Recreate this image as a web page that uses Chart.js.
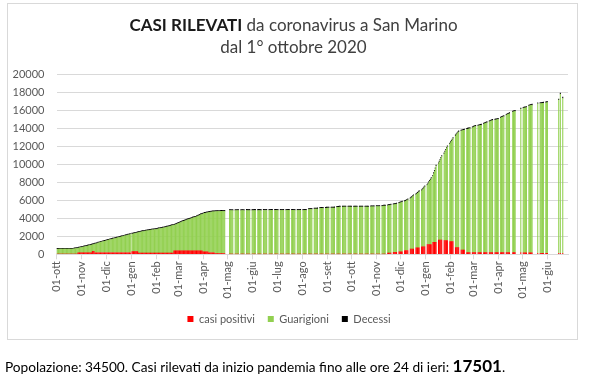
<!DOCTYPE html>
<html><head><meta charset="utf-8">
<script src="https://cdn.jsdelivr.net/npm/chart.js@4.4.1/dist/chart.umd.min.js"></script>
<style>
html,body{margin:0;padding:0;background:#fff;width:589px;height:377px;overflow:hidden;font-family:Lato,"Open Sans",sans-serif;}
#frame{position:absolute;left:7px;top:3px;width:571px;height:337px;border:1px solid #d9d9d9;box-sizing:border-box;}
#title{position:absolute;left:0;width:587px;top:14px;text-align:center;color:#404040;font-size:17px;line-height:22px;}
#title b{color:#1a1a1a;}
#note{position:absolute;left:5px;top:355px;font-size:13.7px;color:#000;white-space:nowrap;}
#note b{font-size:17px;}
#c{position:absolute;left:0;top:0;}
</style></head>
<body>
<div id="frame"></div>
<canvas id="c" width="589" height="377"></canvas>
<div id="title"><b>CASI RILEVATI</b> da coronavirus a San Marino<br>dal 1° ottobre 2020</div>
<div id="note">Popolazione: 34500. Casi rilevati da inizio pandemia fino alle ore 24 di ieri: <b>17501</b>.</div>
<script>
// giorni dal 01-ott-2020 al 26-giu-2022 (null = dato non pubblicato)
const dataInizio = [2020, 9, 1];
const mesi = ['gen','feb','mar','apr','mag','giu','lug','ago','set','ott','nov','dic'];
const serieNomi = ['casi positivi', 'Guarigioni', 'Decessi'];

const positivi = [
40,40,40,40,40,40,40,40,40,40,40,40,40,40,40,40,40,40,40,40,40,40,40,40,40,40,
190,190,190,190,190,190,190,190,190,190,190,190,190,190,190,190,190,190,
360,360,360,
200,200,200,200,200,200,200,200,200,200,200,200,200,200,200,200,200,200,200,200,200,200,200,200,200,200,200,200,200,200,200,200,200,200,200,200,200,200,200,200,200,200,200,200,200,
null,
320,320,320,320,320,320,320,320,
170,170,170,170,170,170,170,170,170,170,170,170,170,170,170,170,170,170,170,170,170,170,170,170,170,170,170,170,170,170,170,170,170,170,170,170,170,170,170,170,170,170,170,170,
420,420,420,420,420,420,420,420,420,420,420,420,420,420,420,420,420,420,420,420,420,420,420,420,420,420,420,420,420,420,420,420,420,420,420,420,
310,310,310,310,310,310,310,
200,200,200,200,200,200,200,200,
90,90,90,90,90,90,90,90,90,90,90,90,90,
null,null,null,null,null,
20,20,20,20,20,null,null,
20,20,20,20,20,null,null,
20,20,20,20,20,null,null,
20,20,20,20,20,null,null,
20,20,20,20,20,null,null,
20,20,20,20,20,null,null,
20,20,20,20,20,null,null,
20,20,20,20,20,null,null,
20,20,20,20,20,null,null,
20,20,20,20,20,null,null,
20,20,20,20,20,null,null,
20,20,20,20,20,null,null,
20,20,20,20,20,null,null,
20,20,20,20,20,null,null,
20,20,20,20,20,null,null,
20,20,20,20,20,null,null,
20,20,20,20,20,null,null,
20,20,20,20,20,null,null,
20,20,20,20,20,null,null,
20,20,20,20,20,null,null,
20,20,20,20,20,null,null,
20,20,20,20,20,null,null,
20,20,20,20,20,null,null,
20,20,20,20,20,null,null,
20,20,20,20,20,null,null,
20,20,20,20,20,null,null,
20,20,20,20,20,null,null,
20,20,20,20,20,null,null,
150,150,150,150,150,null,null,
230,230,230,230,230,null,null,
300,300,300,300,300,null,null,
450,450,450,450,450,null,null,
600,600,600,600,600,null,null,
750,750,750,750,750,null,null,
850,850,850,850,850,null,null,
1100,1100,1100,1100,1100,1100,null,
1350,1350,1350,1350,1350,null,null,
1600,1600,1600,1600,1600,null,null,
1550,1550,1550,1550,1550,null,null,
1450,1450,1450,1450,1450,null,null,
780,780,780,780,780,null,null,
500,500,500,500,500,null,null,
220,220,220,220,220,null,null,
220,220,220,220,220,null,null,
220,220,220,220,220,null,null,
220,220,220,220,220,null,null,
220,220,220,220,220,null,null,
220,220,220,220,220,null,null,
220,220,220,220,220,null,null,
220,220,220,220,220,null,null,
null,220,220,220,220,null,null,
null,null,null,null,220,null,null,
180,180,180,180,180,null,null,
180,180,180,180,180,null,null,
null,null,null,null,120,null,null,
120,120,120,120,120,null,null,
120,120,120,null,null,null,null,
null,null,null,null,null,null,null,
null,null,130,null,130,null,null,
130,null,null,null,null,null,null
];

const guarigioni = [
550,550,551,551,552,552,553,553,554,554,555,555,556,556,557,557,558,558,559,559,560,
580,595,610,625,640,
510,530,550,570,590,610,
630,650,670,690,710,730,
760,780,800,820,840,860,
720,750,770,
960,980,1000,1030,
1070,1090,1120,1150,1170,1200,
1230,1250,1270,1290,1320,1340,
1380,1400,1420,1450,1470,1490,
1520,1540,1560,1580,1600,1630,1650,
1680,1700,1720,1740,1770,1790,
1820,1840,1870,1890,1910,1940,1960,1980,2000,2030,
null,
1945,1965,1985,2005,2035,2055,2075,2095,
2275,2295,2315,2335,2355,2375,2385,2405,
2425,2435,2455,2465,2485,2495,2515,2535,
2555,2565,2575,2585,2595,2605,2625,2635,2655,
2685,2705,2715,2735,2755,2765,2785,2805,
2835,2855,2875,2895,2915,2935,2965,2985,
3025,3045,3065,
2845,2865,2895,2935,2975,3015,
3050,3090,3130,3170,
3210,3240,3270,3300,3330,3370,3400,3430,
3470,3500,3530,3560,3590,
3630,3660,3680,3710,3730,
3770,3810,3850,3890,3940,3990,
4030,4060,
4200,4230,4260,4280,
4300,4320,4330,
4460,4480,4490,4510,
4530,4540,4550,4560,
4680,4680,4690,4690,4700,4700,
4700,4710,4710,4710,4720,4720,4720,
null,null,null,null,null,
4865,4867,4869,4871,4873,null,null,
4873,4874,4875,4875,4875,null,null,
4875,4875,4875,4875,4875,null,null,
4877,4877,4877,4877,4877,null,null,
4878,4878,4878,4878,4878,null,null,
4879,4879,4879,4879,4879,null,null,
4880,4880,4880,4880,4880,null,null,
4881,4881,4881,4881,4881,null,null,
4883,4883,4883,4883,4883,null,null,
4885,4885,4885,4885,4885,null,null,
4887,4887,4887,4887,4887,null,null,
4890,4890,4890,4890,4890,null,null,
4892,4892,4892,4892,4892,null,null,
4895,4895,4895,4895,4895,null,null,
4965,4985,4995,5005,5015,null,null,
5025,5030,5035,5040,5045,null,null,
5105,5110,5115,5117,5120,null,null,
5125,5127,5130,5133,5135,null,null,
5140,5143,5147,5151,5155,null,null,
5225,5230,5235,5240,5245,null,null,
5250,5251,5252,5253,5255,null,null,
5255,5255,5255,5255,5255,null,null,
5257,5257,5257,5257,5257,null,null,
5259,5259,5259,5259,5259,null,null,
5261,5261,5261,5261,5261,null,null,
5275,5280,5285,5290,5295,null,null,
5300,5303,5305,5307,5310,null,null,
5335,5345,5355,5365,5375,null,null,
5275,5290,5305,5320,5335,null,null,
5295,5315,5335,5355,5375,null,null,
5382,5412,5452,5482,5522,null,null,
5422,5472,5522,5572,5632,null,null,
5582,5662,5742,5832,5932,null,null,
5882,5962,6052,6142,6232,null,null,
6232,6332,6432,6552,6682,null,null,
6582,6732,6882,7032,7182,7332,null,
7332,7632,7882,8182,8482,null,null,
8482,8682,8882,9082,9282,null,null,
9632,9832,10032,10232,10432,null,null,
10832,10982,11132,11282,11432,null,null,
12400,12520,12630,12750,12850,null,null,
13230,13260,13280,13310,13330,null,null,
13690,13710,13740,13760,13780,null,null,
13860,13910,13960,14000,14030,null,null,
14060,14080,14110,14140,14160,null,null,
14280,14320,14360,14400,14440,null,null,
14540,14580,14620,14660,14690,null,null,
14720,14740,14760,14790,14810,null,null,
14960,15000,15040,15080,15110,null,null,
15260,15310,15360,15400,15440,null,null,
null,15610,15640,15680,15710,null,null,
null,null,null,null,15960,null,null,
16080,16100,16120,16140,16150,null,null,
16320,16350,16380,16400,16420,null,null,
null,null,null,null,16640,null,null,
16660,16670,16680,16700,16710,null,null,
16740,16760,16780,null,null,null,null,
null,null,null,null,null,null,null,
null,null,17050,null,17700,null,null,
17251,null,null,null,null,null,null
];

const decessi = [
100,100,100,100,100,100,100,100,100,100,
100,100,100,100,100,100,100,100,100,100,
100,100,100,100,100,100,100,100,100,100,
100,100,100,100,100,100,100,100,100,100,
100,100,100,100,100,100,100,100,100,100,
100,100,100,100,100,100,100,100,100,100,
100,100,100,100,100,100,100,100,100,100,
100,100,100,100,100,100,100,100,100,100,
100,100,100,100,100,100,100,100,100,100,
100,100,
null,
105,105,105,105,105,105,105,105,105,105,
105,105,105,105,105,105,105,105,105,105,
105,105,105,105,105,105,105,105,105,105,
105,105,105,105,105,105,105,105,105,105,
105,105,105,105,105,105,105,105,105,105,
105,105,105,105,105,105,105,105,
110,110,110,110,110,110,110,110,110,110,
110,110,110,110,110,110,110,110,110,110,
110,110,110,110,110,110,110,110,110,110,
110,110,110,110,110,110,110,110,110,110,
110,110,110,110,110,110,110,110,110,110,
110,110,110,110,110,110,110,110,
null,null,null,null,null,
115,115,115,115,115,null,null,
115,115,115,115,115,null,null,
115,115,115,115,115,null,null,
115,115,115,115,115,null,null,
115,115,115,115,115,null,null,
115,115,115,115,115,null,null,
115,115,115,115,115,null,null,
115,115,115,115,115,null,null,
115,115,115,115,115,null,null,
115,115,115,115,115,null,null,
115,115,115,115,115,null,null,
115,115,115,115,115,null,null,
115,115,115,115,115,null,null,
115,115,115,115,115,null,null,
115,115,115,115,115,null,null,
115,115,115,115,115,null,null,
115,115,115,115,115,null,null,
115,115,115,115,115,null,null,
115,115,115,115,115,null,null,
115,115,115,115,115,null,null,
115,115,115,115,115,null,null,
115,115,115,115,115,null,null,
115,115,115,115,115,null,null,
115,115,115,115,115,null,null,
115,115,115,115,115,null,null,
115,115,115,115,115,null,null,
115,115,115,115,115,null,null,
115,115,115,115,115,null,null,
115,115,115,115,115,null,null,
115,115,115,115,115,null,null,
118,118,118,118,118,null,null,
118,118,118,118,118,null,null,
118,118,118,118,118,null,null,
118,118,118,118,118,null,null,
118,118,118,118,118,null,null,
118,118,118,118,118,118,null,
118,118,118,118,118,null,null,
118,118,118,118,118,null,null,
118,118,118,118,118,null,null,
118,118,118,118,118,null,null,
120,120,120,120,120,null,null,
120,120,120,120,120,null,null,
120,120,120,120,120,null,null,
120,120,120,120,120,null,null,
120,120,120,120,120,null,null,
120,120,120,120,120,null,null,
120,120,120,120,120,null,null,
120,120,120,120,120,null,null,
120,120,120,120,120,null,null,
120,120,120,120,120,null,null,
null,120,120,120,120,null,null,
null,null,null,null,120,null,null,
120,120,120,120,120,null,null,
120,120,120,120,120,null,null,
null,null,null,null,120,null,null,
120,120,120,120,120,null,null,
120,120,120,null,null,null,null,
null,null,null,null,null,null,null,
null,null,120,null,120,null,null,
120,null,null,null,null,null,null
];

const yTicks = [0, 2000, 4000, 6000, 8000, 10000, 12000, 14000, 16000, 18000, 20000];

// etichette giornaliere "gg-mmm"
const labels = [];
const t0 = Date.UTC(dataInizio[0], dataInizio[1], dataInizio[2]);
for (let i = 0; i < guarigioni.length; i++) {
  const d = new Date(t0 + i * 86400000);
  labels.push(String(d.getUTCDate()).padStart(2, '0') + '-' + mesi[d.getUTCMonth()]);
}

Chart.defaults.font.family = 'Lato, "Open Sans", sans-serif';
Chart.defaults.color = '#595959';

new Chart(document.getElementById('c'), {
  type: 'bar',
  data: {
    labels: labels,
    datasets: [
      {label: serieNomi[0], data: positivi, backgroundColor: '#ff0000', stack: 's'},
      {label: serieNomi[1], data: guarigioni, backgroundColor: '#92d050', stack: 's'},
      {label: serieNomi[2], data: decessi, backgroundColor: '#000000', stack: 's'}
    ]
  },
  options: {
    responsive: false,
    animation: false,
    events: [],
    datasets: {bar: {barPercentage: 1, categoryPercentage: 1, inflateAmount: 0.12, borderWidth: 0}},
    layout: {padding: {left: 10, right: 21, top: 74.5, bottom: 42.5}},
    plugins: {
      legend: {
        position: 'bottom',
        labels: {boxWidth: 6, boxHeight: 6, padding: 13, color: '#595959', font: {size: 11}}
      },
      tooltip: {enabled: false}
    },
    scales: {
      x: {
        stacked: true,
        grid: {display: true, drawOnChartArea: false, drawTicks: true, tickLength: 5, color: '#d9d9d9', offset: false},
        border: {display: true, color: '#d9d9d9'},
        ticks: {autoSkip: false, minRotation: 90, maxRotation: 90, padding: 2, color: '#595959', font: {size: 11}},
        afterBuildTicks: (s) => { s.ticks = s.ticks.filter(t => labels[t.value].startsWith('01-')); },
        afterFit: (s) => { s.height = 46.2; }
      },
      y: {
        stacked: true,
        min: 0, max: 20000,
        grid: {color: '#d9d9d9', drawTicks: false},
        border: {display: false},
        ticks: {padding: 12, color: '#595959', font: {size: 11}, callback: (v) => String(v)},
        afterBuildTicks: (s) => { s.ticks = yTicks.map(v => ({value: v})); },
        afterFit: (s) => { s.width = 46.5; }
      }
    }
  }
});
</script>
</body></html>
